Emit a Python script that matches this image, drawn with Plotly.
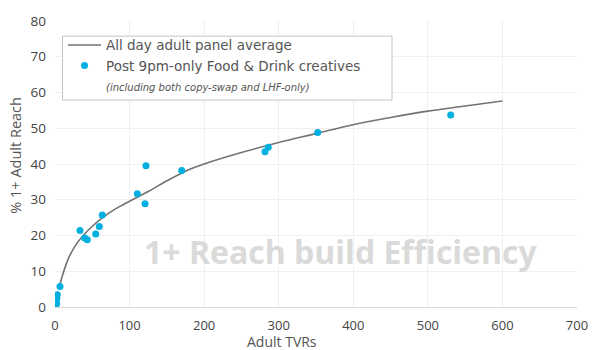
import plotly.graph_objects as go

# Average curve (All day adult panel average)
avg_tvr = [5, 10, 15, 20, 30, 40, 50, 60, 80, 100, 125, 150, 175, 200, 250, 300, 350, 400, 450, 500, 550, 600]
avg_reach = [5.0, 8.8, 12.0, 14.5, 18.0, 20.5, 22.6, 24.4, 27.3, 29.6, 32.3, 35.3, 38.0, 40.0, 43.2, 46.0, 48.5, 51.0, 53.0, 54.8, 56.2, 57.6]

# Post 9pm-only Food & Drink creatives
pt_tvr = [0.5, 1.5, 2.3, 2.5, 3.1, 6.7, 33.5, 39.8, 43.3, 54.6, 59.4, 63.4, 110.4, 120.7, 122.0, 169.9, 281.6, 286.0, 352.3, 530.6]
pt_reach = [0.8, 1.2, 0.9, 2.4, 3.4, 5.7, 21.4, 19.3, 18.8, 20.4, 22.5, 25.7, 31.7, 28.9, 39.5, 38.2, 43.4, 44.7, 48.8, 53.7]

x_ticks = [0, 100, 200, 300, 400, 500, 600, 700]
y_ticks = [0, 10, 20, 30, 40, 50, 60, 70, 80]

FONT = "Open Sans"
LEG_FONT = "DejaVu Sans"

# plot-area geometry (px) used to place paper-referenced decorations
W, H = 604, 350
ML, MR, MT, MB = 55, 27, 14, 43
PW, PH = W - ML - MR, H - MT - MB


def px(xp):
    return (xp - ML) / PW


def py(yp):
    return (H - MB - yp) / PH


fig = go.Figure()
fig.add_trace(go.Scatter(
    x=avg_tvr, y=avg_reach, mode="lines", name="All day adult panel average",
    line=dict(color="#737373", width=1.6, shape="spline"),
))
fig.add_trace(go.Scatter(
    x=pt_tvr, y=pt_reach, mode="markers", name="Post 9pm-only Food & Drink creatives",
    marker=dict(color="#00b0e0", size=7),
))
fig.add_trace(go.Scatter(
    x=[None], y=[None], mode="markers",
    name="<i><span style='font-size:10px'>(including both copy-swap and LHF-only)</span></i>",
    marker=dict(color="rgba(0,0,0,0)", size=1),
))

# legend frame
fig.add_shape(
    type="rect", xref="paper", yref="paper",
    x0=px(62.5), x1=px(392), y0=py(95), y1=py(29.5),
    line=dict(color="#c4c4c4", width=1), fillcolor="white", layer="above",
)

fig.add_annotation(
    x=px(340.5), y=py(250), xref="paper", yref="paper", text="<b>1+ Reach build Efficiency</b>",
    xanchor="center", yanchor="middle",
    showarrow=False, font=dict(family=FONT, size=32, color="#dadada"),
)
fig.add_annotation(
    x=px(282), y=py(342.5), xref="paper", yref="paper", text="Adult TVRs",
    xanchor="center", yanchor="middle",
    showarrow=False, font=dict(family=FONT, size=14, color="#555555"),
)
fig.add_annotation(
    x=px(16), y=py(152), xref="paper", yref="paper", text="% 1+ Adult Reach",
    xanchor="center", yanchor="middle",
    showarrow=False, textangle=-90, font=dict(family=FONT, size=14.5, color="#555555"),
)

fig.update_layout(
    width=W, height=H,
    margin=dict(l=ML, r=MR, t=MT, b=MB),
    paper_bgcolor="white", plot_bgcolor="white",
    font=dict(family=FONT, size=13.5, color="#444444"),
    showlegend=True,
    legend=dict(
        x=px(63), y=py(23), xanchor="left", yanchor="top",
        borderwidth=0, bgcolor="rgba(0,0,0,0)",
        font=dict(family=LEG_FONT, size=13.5, color="#555555"),
        tracegroupgap=0, itemwidth=33,
    ),
    xaxis=dict(
        range=[0, 700], tickvals=x_ticks, tickfont=dict(size=13),
        showgrid=True, gridcolor="#efefef", zeroline=False,
        showline=True, linecolor="#d9d9d9", ticks="", ticklabelstandoff=6,
        fixedrange=True,
    ),
    yaxis=dict(
        range=[0, 80], tickvals=y_ticks,
        showgrid=True, gridcolor="#efefef", zeroline=False,
        showline=False, ticks="", ticklabelstandoff=8, fixedrange=True,
    ),
)

fig.write_html("out.html")
